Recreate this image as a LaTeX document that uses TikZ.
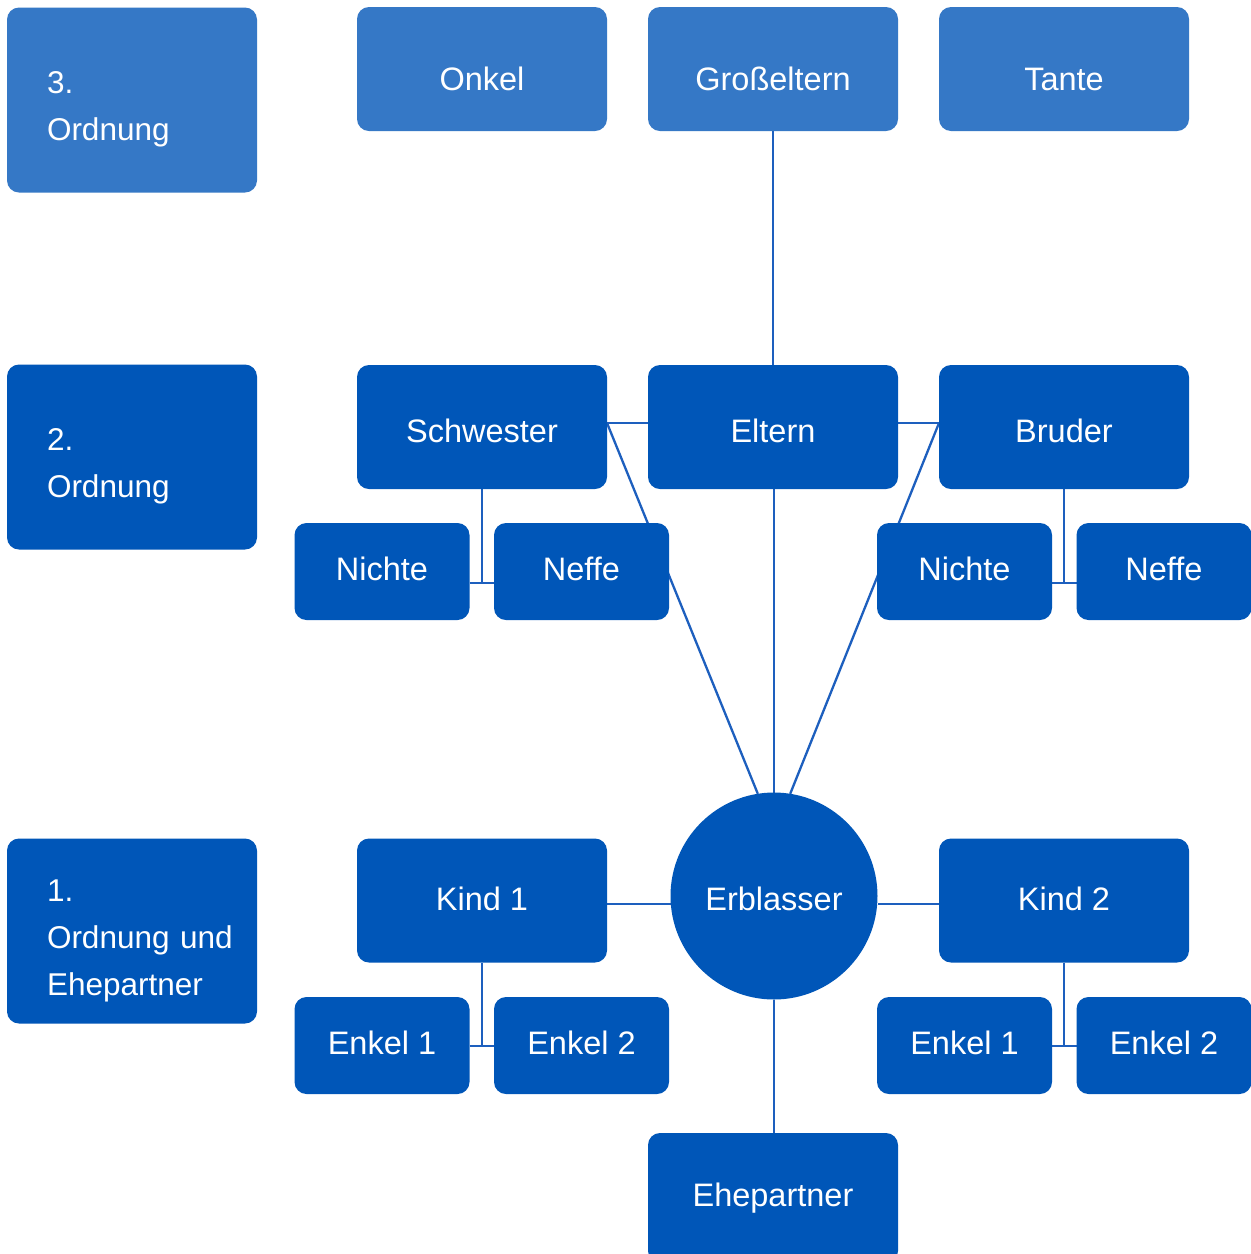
\documentclass[tikz,border=0pt]{standalone}
\usepackage{fontspec}
\setmainfont{Liberation Sans}
\usetikzlibrary{backgrounds}
\definecolor{dk}{HTML}{0056B8}
\definecolor{lt}{HTML}{3578C6}
\definecolor{ln}{HTML}{1D5FBE}
\tikzset{
  basebx/.style={rectangle, rounded corners=12pt, fill=dk, text=white, inner sep=0pt, outer sep=0pt,
    font=\fontsize{32.5}{47}\selectfont},
  bx/.style={basebx, minimum width=250pt, minimum height=124pt, text height=31.3pt, text depth=0pt},
  ltbx/.style={bx, fill=lt, text height=43.3pt},
  kbx/.style={bx, text height=20.3pt},
  smbx/.style={bx, minimum width=175pt, minimum height=97pt, text height=18.3pt},
  ordbx/.style={basebx, minimum width=250pt, minimum height=185pt, align=left, text width=170pt,
    font=\fontsize{31.5}{47}\selectfont, text height=41pt},
  conn/.style={draw=ln, line width=2.3pt},
}
\begin{document}
\begin{tikzpicture}[x=1pt,y=-1pt]
\useasboundingbox (0,0) rectangle (1251,1254);
% order boxes
\node[ordbx, fill=lt] (o3) at (132,100) {3.\\Ordnung};
\node[ordbx] (o2) at (132,457) {2.\\Ordnung};
\node[ordbx] (o1) at (132,931) {1.\\\mbox{Ordnung und}\\Ehepartner};
% row 3
\node[ltbx] (onkel) at (482,69) {Onkel};
\node[ltbx] (gross) at (773,69) {Großeltern};
\node[ltbx] (tante) at (1064,69) {Tante};
% row 2
\node[bx] (schw) at (482,427) {Schwester};
\node[bx] (eltern) at (773,427) {Eltern};
\node[bx] (bruder) at (1064,427) {Bruder};
\node[smbx] (nichteL) at (382,571.5) {Nichte};
\node[smbx] (neffeL) at (581.5,571.5) {Neffe};
\node[smbx] (nichteR) at (964.5,571.5) {Nichte};
\node[smbx] (neffeR) at (1164,571.5) {Neffe};
% row 1
\node[circle, fill=dk, text=white, inner sep=0pt, outer sep=0pt, minimum size=207pt,
  text height=29.3pt, text depth=0pt,
  font=\fontsize{32.5}{37}\selectfont] (erb) at (774,896) {Erblasser};
\node[kbx] (kind1) at (482,900.5) {Kind 1};
\node[kbx] (kind2) at (1064,900.5) {Kind 2};
\node[smbx] (enkel1L) at (382,1045.5) {Enkel 1};
\node[smbx] (enkel2L) at (581.5,1045.5) {Enkel 2};
\node[smbx] (enkel1R) at (964.5,1045.5) {Enkel 1};
\node[smbx] (enkel2R) at (1164,1045.5) {Enkel 2};
\node[bx, minimum height=130pt, text height=16.3pt] (ehe) at (773,1198) {Ehepartner};
\coordinate (tS) at (482,583);
\coordinate (tB) at (1064,583);
\coordinate (tK1) at (482,1046);
\coordinate (tK2) at (1064,1046);
\begin{scope}[on background layer]
  \fill[white] (0,0) rectangle (1251,1254);
  \draw[conn] (gross.south) -- (eltern.north);
  \draw[conn] ([yshift=4pt]schw.east) -- ([yshift=4pt]eltern.west);
  \draw[conn] ([yshift=4pt]eltern.east) -- ([yshift=4pt]bruder.west);
  \draw[conn] ([yshift=4pt]schw.east) -- (erb.99);
  \draw[conn] ([yshift=4pt]bruder.west) -- (erb.81);
  \draw[conn] ([xshift=1pt]eltern.south) -- ([xshift=1pt]eltern.south |- erb.north);
  \draw[conn] (schw.south) -- (tS);
  \draw[conn] (tS -| nichteL.east) -- (tS -| neffeL.west);
  \draw[conn] (bruder.south) -- (tB);
  \draw[conn] (tB -| nichteR.east) -- (tB -| neffeR.west);
  \draw[conn] ([yshift=-3.5pt]kind1.east) -- ([yshift=-3.5pt]kind1.east -| erb.west);
  \draw[conn] ([yshift=-3.5pt]kind2.west) -- ([yshift=-3.5pt]kind2.west -| erb.east);
  \draw[conn] (kind1.south) -- (tK1);
  \draw[conn] (tK1 -| enkel1L.east) -- (tK1 -| enkel2L.west);
  \draw[conn] (kind2.south) -- (tK2);
  \draw[conn] (tK2 -| enkel1R.east) -- (tK2 -| enkel2R.west);
  \draw[conn] (erb.south) -- (erb.south |- ehe.north);
\end{scope}
\end{tikzpicture}
\end{document}
